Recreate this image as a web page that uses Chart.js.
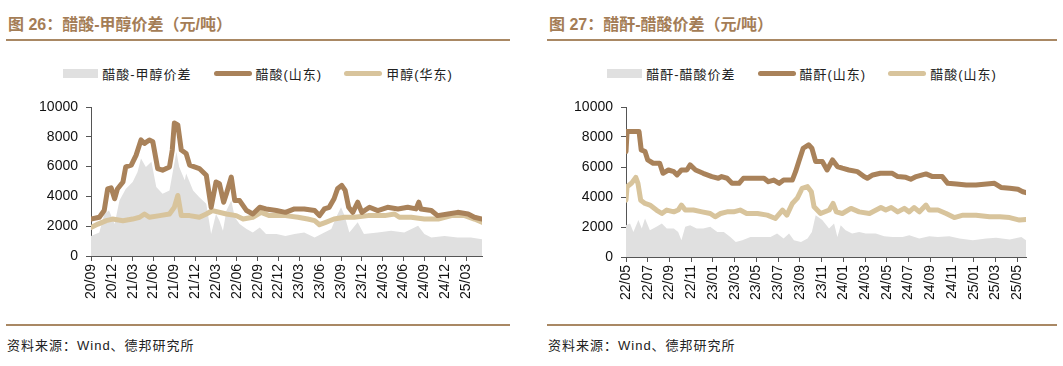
<!DOCTYPE html>
<html>
<head>
<meta charset="utf-8">
<script src="https://cdn.jsdelivr.net/npm/chart.js@4.4.1/dist/chart.umd.min.js"></script>
<style>
body{margin:0;background:#fff;width:1063px;height:366px;position:relative;overflow:hidden;font-family:"Liberation Sans","Noto Sans CJK SC",sans-serif;}
.title{position:absolute;top:11px;font-size:16px;font-weight:bold;color:#A47D56;white-space:nowrap;}
.rule{position:absolute;height:2px;background:#A98864;}
.src{position:absolute;top:335px;font-size:13px;color:#222;letter-spacing:1px;white-space:nowrap;}
.legend{position:absolute;top:63px;height:20px;display:flex;justify-content:center;align-items:center;font-size:13px;color:#222;letter-spacing:1px;white-space:nowrap;}
.item{display:flex;align-items:center;margin:0 11px;}
.sw{display:inline-block;margin-right:4px;}
.area{width:35px;height:9px;background:#E0E0E0;}
.ln{width:38px;height:5px;border-radius:3px;}
.box{position:absolute;top:90px;}
</style>
</head>
<body>
<div class="title" style="left:8px">图 26：醋酸-甲醇价差（元/吨）</div>
<div class="rule" style="left:6px;top:39px;width:504px"></div>
<div class="legend" style="left:6px;width:504px">
  <div class="item"><span class="sw area"></span>醋酸-甲醇价差</div>
  <div class="item"><span class="sw ln" style="background:#A9825A"></span>醋酸(山东)</div>
  <div class="item"><span class="sw ln" style="background:#D8C49C"></span>甲醇(华东)</div>
</div>
<div class="box" style="left:6px"><canvas id="c1" width="504" height="225"></canvas></div>
<div class="rule" style="left:6px;top:324px;width:504px"></div>
<div class="src" style="left:7px">资料来源：Wind、德邦研究所</div>

<div class="title" style="left:549px">图 27：醋酐-醋酸价差（元/吨）</div>
<div class="rule" style="left:547px;top:39px;width:510px"></div>
<div class="legend" style="left:547px;width:510px">
  <div class="item"><span class="sw area"></span>醋酐-醋酸价差</div>
  <div class="item"><span class="sw ln" style="background:#A9825A"></span>醋酐(山东)</div>
  <div class="item"><span class="sw ln" style="background:#D8C49C"></span>醋酸(山东)</div>
</div>
<div class="box" style="left:547px"><canvas id="c2" width="510" height="225"></canvas></div>
<div class="rule" style="left:547px;top:324px;width:510px"></div>
<div class="src" style="left:548px">资料来源：Wind、德邦研究所</div>

<script>
// 图26 横轴：自 2020/09 起的月数
var leftTickLabels = ["20/09","20/12","21/03","21/06","21/09","21/12","22/03","22/06","22/09","22/12","23/03","23/06","23/09","23/12","24/03","24/06","24/09","24/12","25/03"];
var leftTickPos = [0,3,6,9,12,15,18,21,24,27,30,33,36,39,42,45,48,51,54];

// 醋酸(山东)
var acidSdMonths = [0,1.2,1.9,2.4,2.9,3.4,3.8,4.6,5.0,5.8,6.5,7.2,7.7,8.4,8.9,9.6,10.3,11.3,11.7,12.0,12.5,13.0,13.7,14.2,15.6,16.6,17.3,18.0,18.5,19.1,19.5,20.2,20.7,21.4,22.4,23.3,24.3,25.2,26.7,28.0,29.3,30.7,32.2,32.9,33.6,34.3,35.0,35.5,36.1,36.6,37.1,37.7,38.4,39.0,40.1,41.3,42.7,44.2,45.6,46.8,47.2,47.5,49.0,49.9,51.4,52.8,54.3,55.2,56.3];
var acidSdValues = [2480,2600,3050,4500,4580,3840,4500,4970,5980,6100,6770,7790,7560,7790,7670,5870,5760,5980,7110,8920,8800,7110,6880,6100,5870,5420,3270,4970,4850,3610,4180,5300,3720,3720,3050,2820,3270,3160,3050,2930,3160,3160,3050,2710,3160,3270,3840,4510,4740,4400,3270,2930,3610,2930,3270,3050,3270,3160,3270,3160,3610,3160,3050,2710,2820,2930,2820,2600,2480];

// 甲醇(华东)
var methanolMonths = [0,1.0,2.2,3.1,4.6,6.0,7.0,7.7,8.4,9.9,11.3,12.0,12.5,13.0,14.2,15.6,16.6,17.5,19.5,20.9,21.9,23.3,24.5,25.7,28.0,29.8,31.2,32.2,32.9,33.8,35.0,36.5,37.9,39.9,42.3,43.7,44.4,46.1,48.0,50.0,51.9,53.8,55.2,56.3];
var methanolValues = [1920,2140,2370,2480,2370,2480,2600,2820,2600,2710,2820,3270,4060,2710,2710,2600,2820,3050,2820,2710,2480,2600,2930,2710,2710,2600,2480,2370,2100,2260,2480,2600,2600,2710,2710,2820,2600,2600,2480,2480,2710,2710,2480,2260];

// 醋酸-甲醇价差
var spread1Months = [0,1.2,1.9,2.6,3.4,4.1,5.0,6.0,6.7,7.2,7.9,8.7,9.4,10.3,11.3,11.9,12.3,12.7,13.5,13.7,14.7,15.6,16.6,17.3,18.0,18.5,19.0,19.5,20.2,20.7,21.4,22.4,23.3,24.3,25.2,26.7,28.0,29.3,30.7,32.2,33.6,34.6,35.3,36.0,36.5,37.2,38.4,39.3,41.3,43.2,45.1,47.1,48.0,49.0,50.9,52.8,54.7,56.3];
var spread1Values = [1350,1580,2820,3050,2140,3720,4500,4970,5640,6550,5980,6320,4630,4180,4400,5980,7000,5980,5080,5530,4400,3950,3500,1470,2820,2370,1690,3050,3720,2600,2140,1810,1580,1920,1470,1470,1350,1470,1580,1240,1580,1810,2600,3270,2710,1580,2260,1470,1580,1690,1580,2030,1470,1240,1350,1240,1240,1130];

// 图27 横轴：自 2022/05 起的月数
var rightTickLabels = ["22/05","22/07","22/09","22/11","23/01","23/03","23/05","23/07","23/09","23/11","24/01","24/03","24/05","24/07","24/09","24/11","25/01","25/03","25/05"];
var rightTickPos = [0,2,4,6,8,10,12,14,16,18,20,22,24,26,28,30,32,34,36];

// 醋酐(山东)
var anhydMonths = [0,0.1,0.7,1.2,1.4,1.75,2.0,2.5,3.1,3.4,3.9,4.4,4.7,5.1,5.6,5.9,6.4,7.1,7.9,8.5,8.8,9.3,9.75,10.4,10.8,11.75,12.7,13.1,13.6,14.1,14.5,15.3,15.6,15.9,16.3,16.8,17.1,17.45,18.06,18.5,19.0,19.45,19.9,20.5,21.3,21.9,22.2,22.7,23.4,24.5,25.0,25.75,26.2,26.7,27.6,28.2,29.1,29.6,30.4,31.3,32.2,33.9,34.5,35.3,36.06,36.5,36.8];
var anhydValues = [7030,8370,8370,8370,7140,7030,6470,6250,6250,5580,5800,5690,5470,5800,5800,6140,5800,5580,5360,5250,5360,5250,4910,4910,5250,5250,5250,5020,5130,4910,5130,5130,5690,6360,7250,7480,7250,6360,6360,5800,6470,6030,5920,5800,5690,5360,5250,5470,5580,5580,5360,5310,5180,5360,5540,5360,5360,4910,4870,4800,4800,4910,4640,4580,4510,4350,4290];

// 醋酸(山东)
var acid2Months = [0,0.1,0.5,0.9,1.1,1.35,1.75,2.2,2.8,3.3,3.75,4.4,4.8,5.1,5.45,6.2,7.0,7.75,8.2,8.7,9.3,9.9,10.5,11.1,12.1,13.0,13.75,14.4,14.8,15.3,15.75,16.2,16.7,17.05,17.3,17.9,18.7,19.05,19.35,19.9,20.7,21.45,22.4,23.45,23.9,24.4,25.0,25.6,26.05,26.5,27.0,27.6,27.9,28.7,29.45,30.2,31.0,32.2,33.45,34.4,35.3,36.2,36.8];
var acid2Values = [3790,4690,4910,5310,4910,3790,3570,3460,3130,2900,3130,3010,3130,3460,3130,3130,3010,2900,2680,2900,3010,3010,3130,2900,2900,2790,2570,3130,2790,3570,3910,4580,4690,4350,3350,2900,3130,3570,3010,2900,3240,3010,2900,3300,3130,3300,3010,3240,3010,3300,3010,3460,3130,3130,2900,2630,2790,2790,2680,2680,2630,2460,2500];

// 醋酐-醋酸价差
var spread2Months = [0,0.37,0.68,1.14,1.45,1.75,2.2,2.8,3.3,3.75,4.4,4.8,5.1,5.45,5.9,6.5,7.1,7.75,8.4,9.0,9.6,10.1,10.7,11.45,12.4,13.3,13.9,14.5,15.0,15.45,16.1,16.7,17.1,17.45,18.06,18.68,19.14,19.45,19.75,20.2,20.8,21.45,22.06,22.98,23.75,24.52,25.45,26.06,26.98,27.9,28.68,29.75,30.68,31.9,33.14,34.06,35.3,36.37,36.8];
var spread2Values = [2120,2230,1670,2460,1900,2570,1790,2010,2230,1900,1900,1670,1120,2010,2120,1900,1900,2010,1670,1670,1340,1000,1120,1340,1340,1340,1560,1230,1560,1120,1000,1230,1670,2790,2460,1900,2230,1340,2120,1790,1560,1670,1560,1560,1380,1340,1340,1450,1230,1380,1340,1380,1230,1120,1230,1290,1160,1340,1120];

function pts(xs, ys) {
    var out = [];
    for (var i = 0; i < xs.length; i++) out.push({x: xs[i], y: ys[i]});
    return out;
}

function lineSet(label, xs, ys, color, order) {
    return {
        label: label, data: pts(xs, ys), borderColor: color, backgroundColor: color,
        borderWidth: 5, pointRadius: 0, tension: 0, fill: false, order: order,
        borderCapStyle: 'round', borderJoinStyle: 'round'
    };
}

function areaSet(label, xs, ys) {
    return {
        label: label, data: pts(xs, ys), borderWidth: 0, borderColor: '#E0E0E0',
        backgroundColor: '#E0E0E0', pointRadius: 0, tension: 0, fill: 'origin', order: 3
    };
}

function makeOptions(xMax, tickPos, tickLabels, yWidth, padRight, xHeight) {
    var tickFont = {family: 'Liberation Sans', size: 14};
    return {
        responsive: false,
        animation: false,
        layout: {padding: {top: 17, right: padRight, bottom: 0, left: 0}},
        plugins: {legend: {display: false}, tooltip: {enabled: false}},
        scales: {
            x: {
                type: 'linear', min: 0, max: xMax,
                afterBuildTicks: function(s) { s.ticks = tickPos.map(function(v) { return {value: v}; }); },
                afterFit: function(s) { s.height = xHeight; },
                grid: {drawOnChartArea: false, drawTicks: true, tickLength: 5, color: '#555'},
                border: {display: true, color: '#555'},
                ticks: {
                    autoSkip: false, minRotation: 90, maxRotation: 90, padding: 3,
                    color: '#111', font: tickFont,
                    callback: function(v, i) { return tickLabels[i]; }
                }
            },
            y: {
                min: 0, max: 10000,
                afterFit: function(s) { s.width = yWidth; },
                grid: {drawOnChartArea: false, drawTicks: true, tickLength: 5, color: '#555'},
                border: {display: true, color: '#555'},
                ticks: {
                    stepSize: 2000, padding: 8, color: '#111', font: tickFont,
                    callback: function(v) { return String(v); }
                }
            }
        }
    };
}

new Chart(document.getElementById('c1').getContext('2d'), {
    type: 'line',
    data: {
        datasets: [
            areaSet('醋酸-甲醇价差', spread1Months, spread1Values),
            lineSet('醋酸(山东)', acidSdMonths, acidSdValues, '#A9825A', 1),
            lineSet('甲醇(华东)', methanolMonths, methanolValues, '#D8C49C', 2)
        ]
    },
    options: makeOptions(56.3, leftTickPos, leftTickLabels, 85, 28, 59)
});

new Chart(document.getElementById('c2').getContext('2d'), {
    type: 'line',
    data: {
        datasets: [
            areaSet('醋酐-醋酸价差', spread2Months, spread2Values),
            lineSet('醋酐(山东)', anhydMonths, anhydValues, '#A9825A', 1),
            lineSet('醋酸(山东)', acid2Months, acid2Values, '#D8C49C', 2)
        ]
    },
    options: makeOptions(36.8, rightTickPos, rightTickLabels, 79, 31, 58)
});
</script>
</body>
</html>
